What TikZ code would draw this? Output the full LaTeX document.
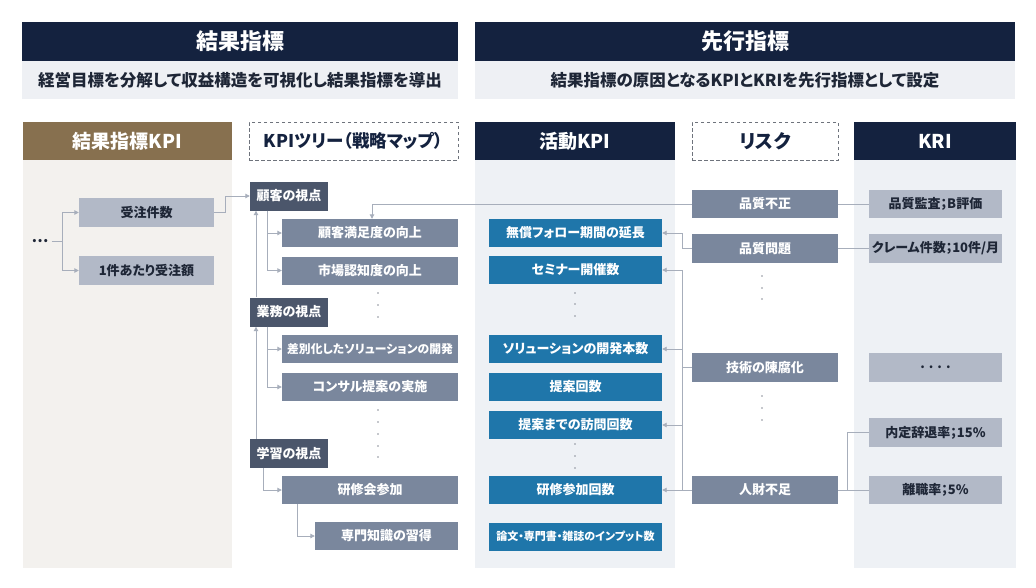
\documentclass[tikz,border=0pt]{standalone}
\usepackage{fontspec}
\setmainfont{Noto Sans CJK JP}[RawFeature=+palt]
\usetikzlibrary{arrows.meta}
\definecolor{navy}{HTML}{14223F}
\definecolor{band}{HTML}{EEF0F4}
\definecolor{ink}{HTML}{1E2636}
\definecolor{brownhead}{HTML}{87704F}
\definecolor{beige}{HTML}{F3F1EE}
\definecolor{panel}{HTML}{EEF1F5}
\definecolor{actblue}{HTML}{1F76AA}
\definecolor{perspc}{HTML}{4B566B}
\definecolor{itemc}{HTML}{7A879D}
\definecolor{lightc}{HTML}{B2B9C7}
\definecolor{linec}{HTML}{A7AEBB}
\definecolor{dashc}{HTML}{6E737C}
\definecolor{dotc}{HTML}{8C919B}
\tikzset{
    base/.style={inner sep=0pt, align=center, font=\bfseries\fontsize{13}{15}\selectfont},
    banner/.style={base, fill=navy, text=white, minimum height=39pt, font=\bfseries\fontsize{22}{24}\selectfont},
    subband/.style={base, fill=band, text=ink, minimum height=38pt, font=\bfseries\fontsize{16.5}{18}\selectfont},
    colhead/.style={base, minimum height=38pt, text=white, font=\bfseries\fontsize{19}{21}\selectfont},
    dashhead/.style={colhead, draw=dashc, line width=1pt, dash pattern=on 3.5pt off 2.5pt, text=navy},
    persp/.style={base, fill=perspc, text=white, minimum width=78pt, minimum height=29pt},
    item/.style={base, fill=itemc, text=white, minimum width=176pt, minimum height=28pt},
    act/.style={base, fill=actblue, text=white, minimum width=173pt, minimum height=28pt},
    risk/.style={base, fill=itemc, text=white, minimum width=146pt, minimum height=28.5pt},
    kri/.style={base, fill=lightc, text=ink, minimum width=133pt, minimum height=28.5pt},
    res/.style={base, fill=lightc, text=ink, minimum width=135pt, minimum height=29pt},
    link/.style={draw=linec, line width=0.9pt},
    flow/.style={link, -{Triangle[length=4.5pt,width=4.5pt]}}
}

\begin{document}
\begin{tikzpicture}[x=1pt, y=-1pt]
    \fill[white] (0,0) rectangle (1036,587);
    \useasboundingbox (0,0) rectangle (1036,587);
    % top headers
    \node[banner, minimum width=436pt] (hres) at (240,41.5) {結果指標};
    \node[subband, minimum width=436pt] (hressub) at (240,80) {経営目標を分解して収益構造を可視化し結果指標を導出};
    \node[banner, minimum width=540pt] (hlead) at (745,41.5) {先行指標};
    \node[subband, minimum width=540pt] (hleadsub) at (745,80) {結果指標の原因となるKPIとKRIを先行指標として設定};
    % column panels
    \fill[beige] (23,160) rectangle (232,568);
    \fill[panel] (475,160) rectangle (675,568);
    \fill[panel] (854,160) rectangle (1016,568);
    \node[colhead, fill=brownhead, minimum width=209pt] (cres) at (127.5,141) {結果指標KPI};
    \node[dashhead, minimum width=209pt, font=\bfseries\fontsize{17.5}{20}\selectfont] (ctree) at (353.5,141) {KPIツリー（戦略マップ）};
    \node[colhead, fill=navy, minimum width=200pt] (cact) at (575,141) {活動KPI};
    \node[dashhead, minimum width=146pt] (crisk) at (765,141) {リスク};
    \node[colhead, fill=navy, minimum width=162pt] (ckri) at (935,141) {KRI};
    % result KPI
    \node[base, text=ink, inner xsep=3pt, font=\bfseries\fontsize{15}{15}\selectfont] (etc) at (40,241.5) {…};
    \node[res] (orders) at (146.5,212.5) {受注件数};
    \node[res] (unitprice) at (146.5,270.5) {1件あたり受注額};
    % KPI tree
    \node[persp] (pcust) at (289,196) {顧客の視点};
    \node[item] (csat) at (370,233) {顧客満足度の向上};
    \node[item] (aware) at (370,270.5) {市場認知度の向上};
    \node[persp] (pops) at (289,312) {業務の視点};
    \node[item, font=\bfseries\fontsize{11.8}{14}\selectfont] (soldiff) at (370,349) {差別化したソリューションの開発};
    \node[item] (consult) at (370,387) {コンサル提案の実施};
    \node[persp] (plearn) at (289,453.5) {学習の視点};
    \node[item] (train) at (370,490) {研修会参加};
    \node[item, minimum width=143pt] (skill) at (386.5,536) {専門知識の習得};
    % activity KPI
    \node[act] (free) at (575.5,233) {無償フォロー期間の延長};
    \node[act] (seminar) at (575.5,270) {セミナー開催数};
    \node[act] (soldev) at (575.5,349) {ソリューションの開発本数};
    \node[act] (propose) at (575.5,387) {提案回数};
    \node[act] (visit) at (575.5,425) {提案までの訪問回数};
    \node[act] (traincnt) at (575.5,490) {研修参加回数};
    \node[act, font=\bfseries\fontsize{11}{13}\selectfont] (input) at (575.5,536.5) {論文・専門書・雑誌のインプット数};
    % risks
    \node[risk] (rfraud) at (765,204) {品質不正};
    \node[risk] (rqual) at (765,248.5) {品質問題};
    \node[risk] (rtech) at (765,367.5) {技術の陳腐化};
    \node[risk] (rhr) at (765,490) {人財不足};
    % KRI
    \node[kri] (kaudit) at (935.5,204) {品質監査；B評価};
    \node[kri] (kclaim) at (935.5,248.5) {クレーム件数；10件/月};
    \node[kri] (kmore) at (935.5,367.5) {. . . .};
    \node[kri] (kdecl) at (935.5,432.5) {内定辞退率；15\%};
    \node[kri] (kturn) at (935.5,490) {離職率；5\%};
    % vertical dots
    \foreach \y in {293,305,317} \fill[dotc] (378,\y) circle (0.9);
    \foreach \y in {410,422,434,446,457} \fill[dotc] (378,\y) circle (0.9);
    \foreach \y in {293,304,316,444,456,468} \fill[dotc] (575,\y) circle (0.9);
    \foreach \y in {276,288,299,396,408,420} \fill[dotc] (762,\y) circle (0.9);
    % junction columns
    \coordinate (xfork) at (62,0);
    \coordinate (xup) at (256,0);
    \coordinate (xbr) at (267,0);
    \coordinate (xlr) at (263,0);
    \coordinate (xsk) at (297,0);
    \coordinate (xqa) at (372,0);
    \coordinate (xrk) at (682,0);
    \coordinate (xkr) at (847,0);
    % connectors, left side
    \draw[link] (etc) -- (etc -| xfork);
    \draw[flow] (etc -| xfork) |- (orders);
    \draw[flow] (etc -| xfork) |- (unitprice);
    \draw[flow] (orders.east) -- ++(11,0) |- (pcust.west);
    \draw[flow] (pcust.south -| xbr) |- (csat);
    \draw[flow] (pcust.south -| xbr) |- (aware);
    \draw[flow] (pops.south -| xbr) |- (soldiff);
    \draw[flow] (pops.south -| xbr) |- (consult);
    \draw[flow] (plearn.south -| xlr) |- (train);
    \draw[flow] (train.south -| xsk) |- (skill);
    \draw[flow] (pops.north -| xup) -- (pcust.south -| xup);
    \draw[flow] (plearn.north -| xup) -- (pops.south -| xup);
    \draw[flow] (rfraud.west) -| (csat.north -| xqa);
    % risk to activity
    \draw[flow] (rqual.west) -- (rqual.west -| xrk) |- (free.east);
    \draw[flow] (rtech.west) -- (rtech.west -| xrk) |- (seminar.east);
    \draw[flow] (rtech.west -| xrk) |- (soldev.east);
    \draw[link] (rtech.west -| xrk) -- (rhr.west -| xrk);
    \draw[flow] (rhr.west -| xrk) |- (visit.east);
    \draw[flow] (rhr.west) -- (traincnt.east);
    % risk to KRI
    \draw[link] (rfraud) -- (kaudit);
    \draw[link] (rqual) -- (kclaim);
    \draw[link] (rhr) -- (kturn);
    \draw[link] (rhr.east -| xkr) |- (kdecl.west);
\end{tikzpicture}
\end{document}
